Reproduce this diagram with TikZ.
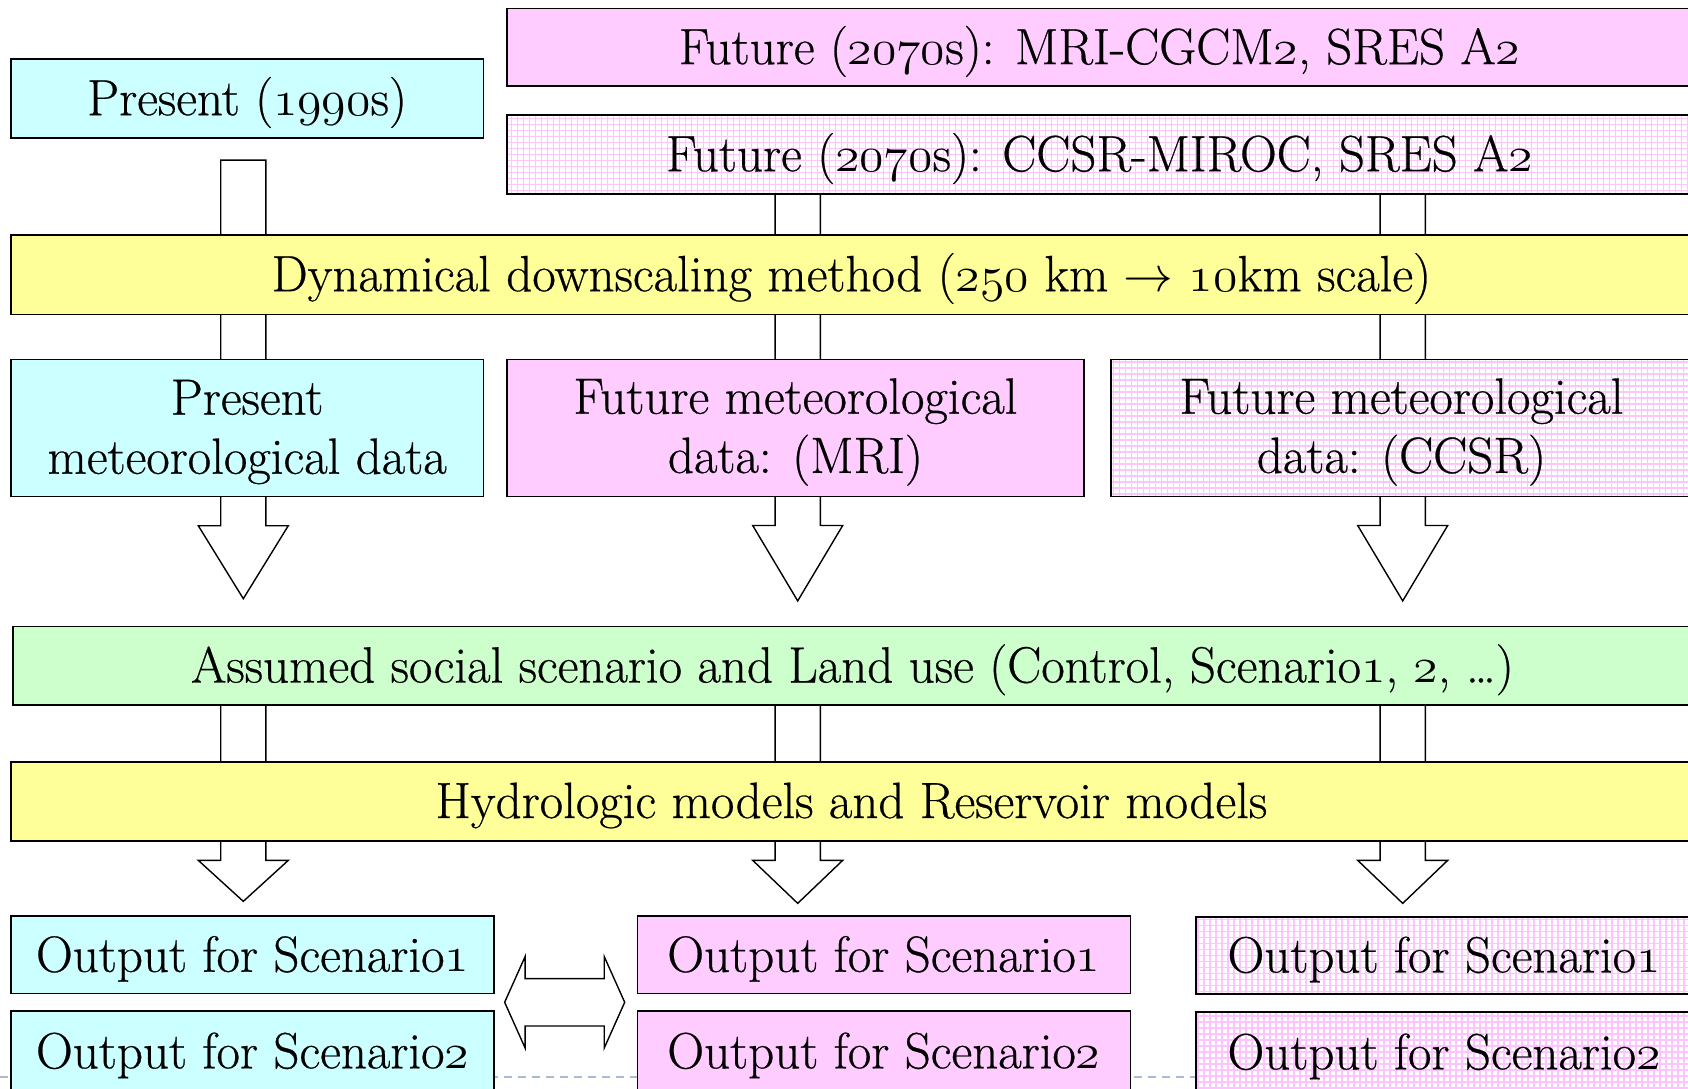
\documentclass[tikz,border=0pt]{standalone}
\usepackage{fontspec}
\usetikzlibrary{backgrounds,calc}
\newfontfamily\boxfont{lmroman17-regular.otf}[FakeBold=0.5]
\definecolor{cyanbox}{HTML}{CCFFFF}
\definecolor{pinkbox}{HTML}{FFCCFF}
\definecolor{yellowbox}{HTML}{FFFF99}
\definecolor{greenbox}{HTML}{CCFFCC}
\definecolor{gridpink}{HTML}{FFC4FF}
\definecolor{footline}{HTML}{A7BBD3}
% old-style figures taken from the math italic font
\newcommand\osn[1]{{\usefont{OML}{cmm}{m}{it}#1}}
% vertical block arrow: #1 column x (px), #2 stem start, #3 target box,
% #4 gap between tip and target, #5 head length
\newcommand\downblock[5]{%
  \draw[blockarrow] let \p1=(#2), \p2=(#3.north) in
    ({(#1-22.6)*0.5pt},\y1) -- ({(#1-22.6)*0.5pt},{\y2+#4+#5})
    -- ({(#1-45)*0.5pt},{\y2+#4+#5}) -- ({#1*0.5pt},{\y2+#4})
    -- ({(#1+45)*0.5pt},{\y2+#4+#5}) -- ({(#1+22.6)*0.5pt},{\y2+#4+#5})
    -- ({(#1+22.6)*0.5pt},\y1) -- cycle;}
\tikzset{
  box/.style={draw=black, line width=0.8pt, inner sep=0pt},
  sz/.style 2 args={minimum width=#1*0.5pt, minimum height=#2*0.5pt},
  txt/.style={inner sep=0pt, align=center, yshift=-2pt,
    font=\boxfont\fontsize{25.5}{29.6}\selectfont},
  cyanfill/.style={box, fill=cyanbox},
  pinkfill/.style={box, fill=pinkbox},
  yellowfill/.style={box, fill=yellowbox},
  greenfill/.style={box, fill=greenbox},
  pinkgrid/.style={box, fill=white, path picture={
      \draw[gridpink, line width=0.95pt, step=3pt]
        (path picture bounding box.south west) grid
        (path picture bounding box.north east);}},
  blockarrow/.style={draw=black, fill=white, line width=0.7pt, line join=miter},
}
\begin{document}
\begin{tikzpicture}[x=0.5pt, y=-0.5pt]
\useasboundingbox (0,0) rectangle (1688,1088);
\clip (0,0) rectangle (1688,1088);

% scenario sources
\node[pinkfill, sz={1185}{77.5}] (futmri) at (1099.5,47.4) {};
\node[txt] (futmri-t) at (futmri.center)
  {Future (\osn{2070}s): MRI-CGCM\osn{2}, SRES A\osn{2}};
\node[pinkgrid, sz={1185}{78.6}] (futccsr) at (1099.5,154.5) {};
\node[txt] (futccsr-t) at (futccsr.center)
  {Future (\osn{2070}s): CCSR-MIROC, SRES A\osn{2}};
\node[cyanfill, sz={472.6}{78.6}] (pres) at (247.1,98.5) {};
\node[txt] (pres-t) at (pres.center) {Present (\osn{1990}s)};

% downscaling
\node[yellowfill, sz={1681.2}{79.6}] (dyn) at (851.4,274.5) {};
\node[txt] (dyn-t) at (dyn.center)
  {Dynamical downscaling method (\osn{250} km $\rightarrow$ \osn{10}km scale)};

% meteorological data
\node[cyanfill, sz={472.6}{136.7}] (presmet) at (247.1,428) {};
\node[txt] (presmet-t) at (presmet.center) {Present\\meteorological data};
\node[pinkfill, sz={577}{136.7}] (mrimet) at (795.5,428) {};
\node[txt] (mrimet-t) at (mrimet.center) {Future meteorological\\data: (MRI)};
\node[pinkgrid, sz={581}{136.7}] (ccsrmet) at (1401.5,428) {};
\node[txt] (ccsrmet-t) at (ccsrmet.center) {Future meteorological\\data: (CCSR)};

% scenario and models
\node[greenfill, sz={1679}{78.6}] (land) at (852.5,665.8) {};
\node[txt] (land-t) at (land.center)
  {Assumed social scenario and Land use (Control, Scenario\osn{1}, \osn{2}, \ldots)};
\node[yellowfill, sz={1681.2}{78.5}] (hydro) at (851.4,801.5) {};
\node[txt] (hydro-t) at (hydro.center) {Hydrologic models and Reservoir models};

% outputs
\node[cyanfill, sz={483.3}{77.5}] (out1a) at (252.5,954.9) {};
\node[txt] at (out1a.center) {Output for Scenario\osn{1}};
\node[cyanfill, sz={483.3}{81}] (out2a) at (252.5,1051.4) {};
\node[txt] at (out2a.center) {Output for Scenario\osn{2}};
\node[pinkfill, sz={493}{77.5}] (out1b) at (883.8,954.9) {};
\node[txt] at (out1b.center) {Output for Scenario\osn{1}};
\node[pinkfill, sz={493}{81}] (out2b) at (883.8,1051.4) {};
\node[txt] at (out2b.center) {Output for Scenario\osn{2}};
\node[pinkgrid, sz={496}{77.5}] (out1c) at (1444,955.5) {};
\node[txt] at (out1c.center) {Output for Scenario\osn{1}};
\node[pinkgrid, sz={496}{81}] (out2c) at (1444,1052.4) {};
\node[txt] at (out2c.center) {Output for Scenario\osn{2}};

% comparison arrow between the output columns
\draw[blockarrow] let \p1=($(out1a.south east)!0.5!(out2a.north east)$),
                      \p2=($(out1b.south west)!0.5!(out2b.north west)$) in
  ({\x1+4.85pt},\y1) -- ({\x1+15.1pt},{\y1+22.9pt}) -- ({\x1+15.1pt},{\y1+11.85pt})
  -- ({\x2-16.15pt},{\y1+11.85pt}) -- ({\x2-16.15pt},{\y1+22.9pt}) -- ({\x2-5.9pt},\y1)
  -- ({\x2-16.15pt},{\y1-22.9pt}) -- ({\x2-16.15pt},{\y1-11.85pt})
  -- ({\x1+15.1pt},{\y1-11.85pt}) -- ({\x1+15.1pt},{\y1-22.9pt}) -- cycle;

\begin{pgfonlayer}{background}
  % footer rule
  \draw[footline, line width=0.6pt, dash pattern=on 4pt off 3pt] (0,1077) -- (1688,1077);
  % flow through the chain for each column
  \coordinate (pstart) at ($(pres.south)+(0,21.5)$);
  \downblock{243.3}{pstart}{land}{13.5pt}{36.5pt}
  \downblock{797.7}{futccsr.center}{land}{12.4pt}{37.7pt}
  \downblock{1402.7}{futccsr.center}{land}{12.4pt}{37.7pt}
  \downblock{243.3}{land.center}{out1a}{7pt}{20.5pt}
  \downblock{797.7}{land.center}{out1a}{6pt}{21.5pt}
  \downblock{1402.7}{land.center}{out1a}{6pt}{21.5pt}
\end{pgfonlayer}
\end{tikzpicture}
\end{document}
